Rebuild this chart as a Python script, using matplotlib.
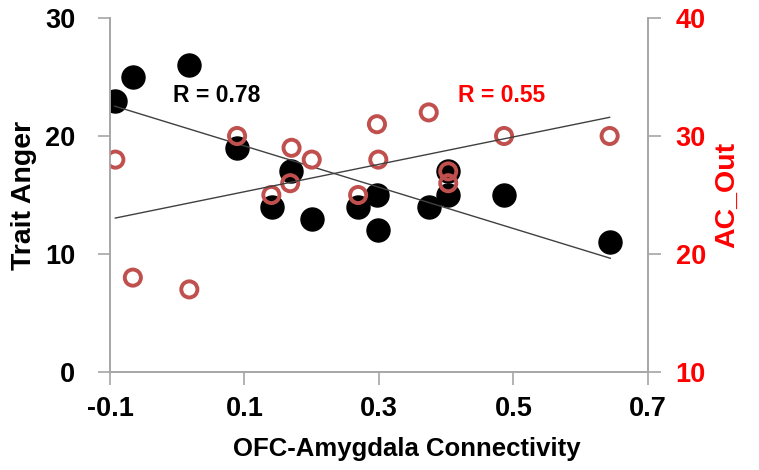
import matplotlib
matplotlib.use("Agg")
import matplotlib.pyplot as plt
import numpy as np

plt.rcParams['font.family'] = ['Liberation Sans', 'DejaVu Sans']
plt.rcParams['font.weight'] = 'bold'

# OFC-Amygdala connectivity vs Trait Anger (left axis)
anger_x = [-0.093, -0.066, 0.018, 0.089, 0.141, 0.169, 0.200, 0.269,
           0.297, 0.299, 0.375, 0.403, 0.403, 0.486, 0.644]
anger_y = [23, 25, 26, 19, 14, 17, 13, 14, 15, 12, 14, 15, 17, 15, 11]

# OFC-Amygdala connectivity vs AC_Out (right axis)
acout_x = [-0.092, -0.066, 0.018, 0.089, 0.140, 0.168, 0.170, 0.200,
           0.269, 0.297, 0.299, 0.374, 0.403, 0.403, 0.486, 0.643]
acout_y = [28, 18, 17, 30, 25, 26, 29, 28, 25, 31, 28, 32, 27, 26, 30, 30]

r_anger = "R = 0.78"
r_acout = "R = 0.55"

x_ticks = [-0.1, 0.1, 0.3, 0.5, 0.7]
left_ticks = [0, 10, 20, 30]
right_ticks = [10, 20, 30, 40]

RED = '#ff0000'
MARKER_RED = '#c0504d'
SPINE = '#a6a6a6'

fig = plt.figure(figsize=(7.59, 4.70), dpi=100)
ax = fig.add_axes([0.1449, 0.2085, 0.7088, 0.7532])
ax2 = ax.twinx()

# black filled points + fit
ax.scatter(anger_x, anger_y, s=275, color='black', zorder=2)
k, b = np.polyfit(anger_x, anger_y, 1)
xs = np.array([min(anger_x), max(anger_x)])
ax.plot(xs, k * xs + b, color='#404040', lw=1.0, zorder=3)

# red hollow points + fit
ax2.scatter(acout_x, acout_y, s=135, facecolors='none', edgecolors=MARKER_RED,
            linewidths=2.8, zorder=2)
k2, b2 = np.polyfit(acout_x, acout_y, 1)
xs2 = np.array([min(acout_x), max(acout_x)])
ax2.plot(xs2, k2 * xs2 + b2, color='#404040', lw=1.0, zorder=3)

ax.set_xlim(-0.1, 0.7)
ax.set_ylim(0, 30)
ax2.set_ylim(10, 40)
ax.set_xticks(x_ticks)
ax.set_xticklabels(['-0.1', '0.1', '0.3', '0.5', '0.7'])
ax.set_yticks(left_ticks)
ax2.set_yticks(right_ticks)

for a in (ax, ax2):
    a.spines['top'].set_visible(False)
    for s in ('left', 'right', 'bottom'):
        a.spines[s].set_color(SPINE)
        a.spines[s].set_linewidth(1.2)

ax.tick_params(axis='x', length=9, width=1.2, color=SPINE, labelsize=19.5, pad=8)
ax.tick_params(axis='y', length=9, width=1.2, color=SPINE, labelsize=19.5, pad=16)
ax2.tick_params(axis='y', length=9, width=1.2, color=SPINE, labelsize=19.5,
                pad=11, labelcolor=RED)

ax.set_xlabel('OFC-Amygdala Connectivity', fontsize=18.5, fontweight='bold')
ax.xaxis.set_label_coords(0.552, -0.183)
ax.set_ylabel('Trait Anger', fontsize=20.5, fontweight='bold', labelpad=6)
ax2.set_ylabel('AC_Out', fontsize=20.5, fontweight='bold', color=RED, labelpad=6)

ax.text(0.058, 23.4, r_anger, fontsize=16.5, fontweight='bold', ha='center', va='center')
ax2.text(0.482, 33.4, r_acout, fontsize=16.5, fontweight='bold', color=RED,
         ha='center', va='center')

fig.savefig('out.png', dpi=100)
